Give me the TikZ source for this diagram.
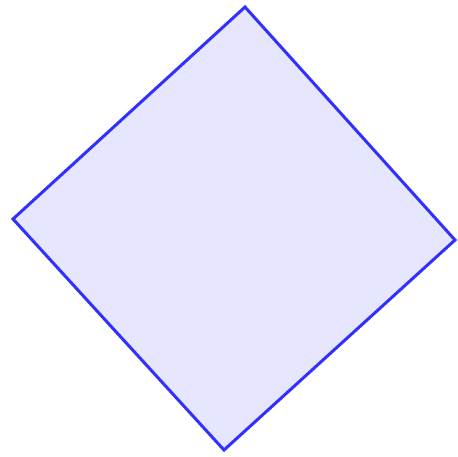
\documentclass[tikz,border=0pt]{standalone}
\definecolor{edgeblue}{RGB}{48,48,255}
\definecolor{fillblue}{RGB}{230,230,255}
\begin{document}
\begin{tikzpicture}[x=1pt,y=-1pt,
  squarebox/.style={draw=edgeblue,fill=fillblue,line width=3pt,line join=miter}]
\useasboundingbox (0,0) rectangle (458,456);
\coordinate (t) at (245,7);
\coordinate (r) at (455,240);
\coordinate (b) at (224,450);
\coordinate (l) at (13,219);
\draw[squarebox] (t) -- (r) -- (b) -- (l) -- cycle;
\end{tikzpicture}
\end{document}
